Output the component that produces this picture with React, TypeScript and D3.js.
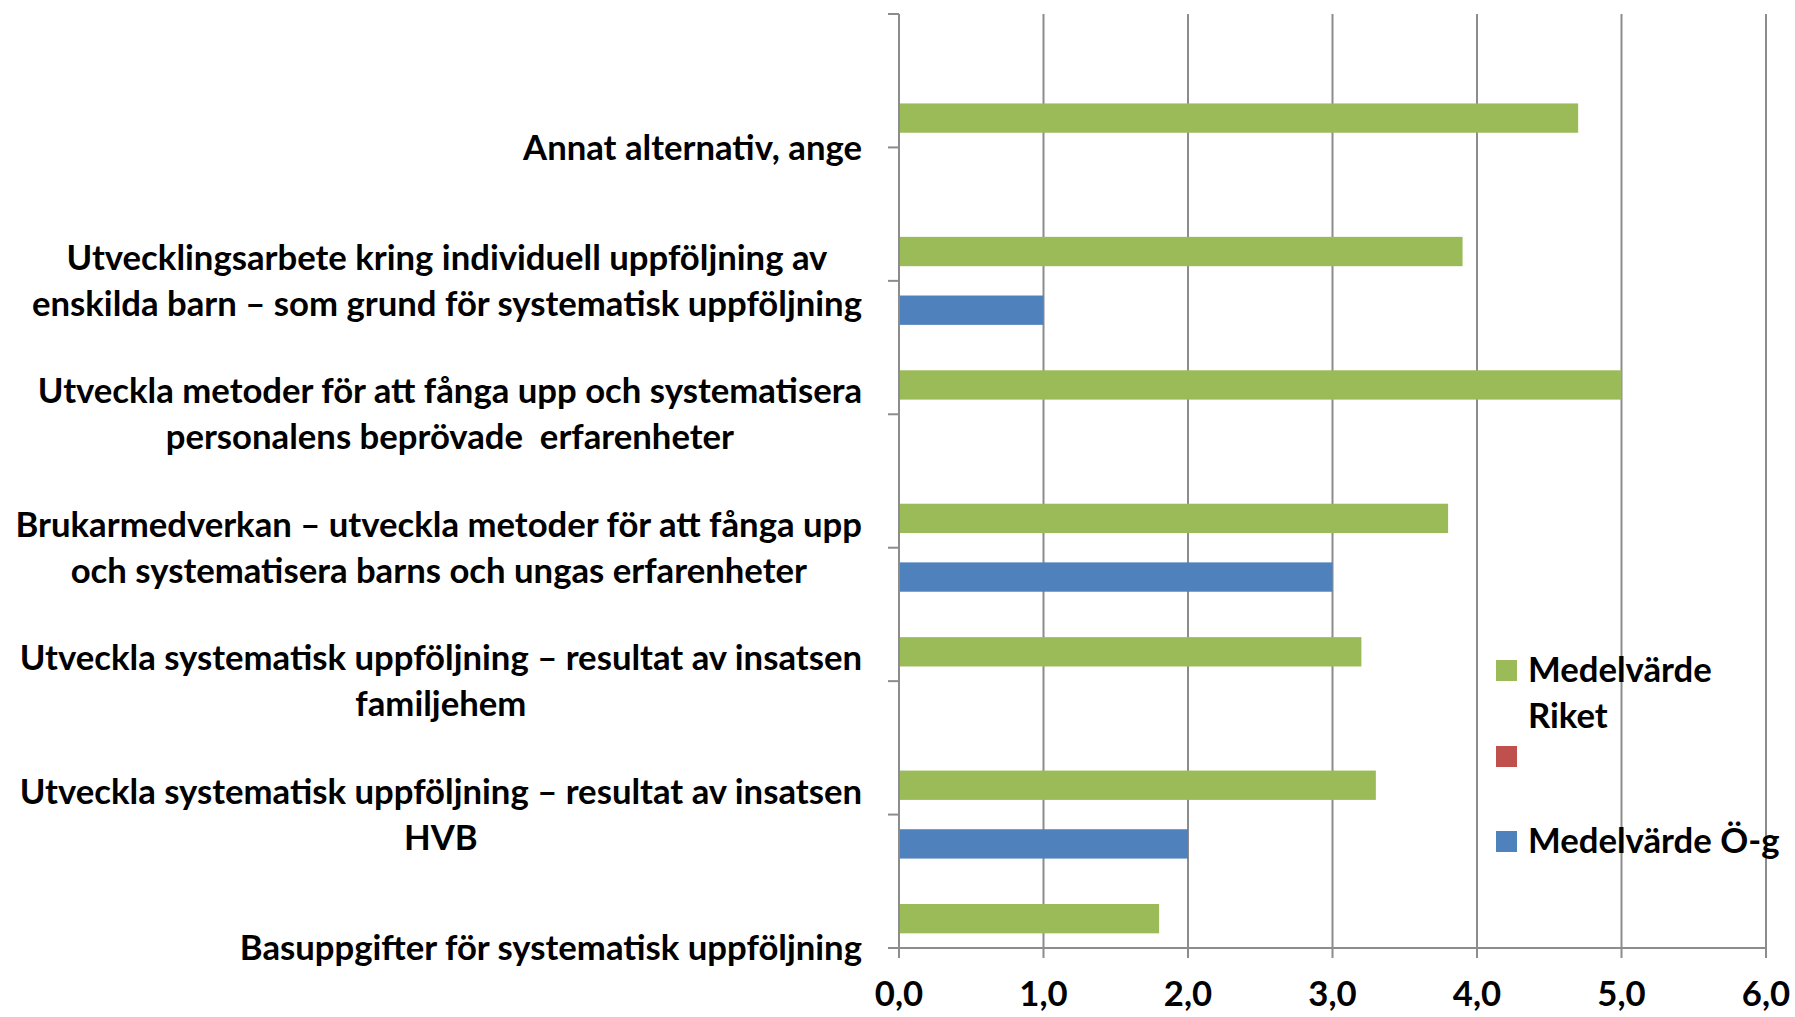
import React, { useRef, useEffect } from 'react';
import * as d3 from 'd3';

// categories top to bottom (first one is the empty slot at the top of the axis)
const categories: string[] = [
    '',
    'Annat alternativ, ange',
    'Utvecklingsarbete kring individuell uppföljning av\nenskilda barn – som grund för systematisk uppföljning',
    'Utveckla metoder för att fånga upp och systematisera\npersonalens beprövade  erfarenheter',
    'Brukarmedverkan – utveckla metoder för att fånga upp\noch systematisera barns och ungas erfarenheter',
    'Utveckla systematisk uppföljning – resultat av insatsen\nfamiljehem',
    'Utveckla systematisk uppföljning – resultat av insatsen\nHVB',
    'Basuppgifter för systematisk uppföljning',
];

const seriesNames: string[] = ['Medelvärde Riket', '', 'Medelvärde Ö-g'];
const seriesColors: string[] = ['#9BBB59', '#C0504D', '#4F81BD'];

const riket: (number | null)[] = [null, 4.7, 3.9, 5.0, 3.8, 3.2, 3.3, 1.8];
const tom: (number | null)[] = [null, null, null, null, null, null, null, null];
const og: (number | null)[] = [null, null, 1.0, null, 3.0, null, 2.0, null];

const xTicks: number[] = [0, 1, 2, 3, 4, 5, 6];

const FONT = 'Lato, "Open Sans", sans-serif';

const App: React.FC = () => {
    const svgRef = useRef<SVGSVGElement | null>(null);

    useEffect(() => {
        if (!svgRef.current) return;
        const svg = d3.select(svgRef.current);
        svg.selectAll('*').remove();

        const left = 899, right = 1766, top = 14, bottom = 948;
        const fontSize = 34.7;
        const gray = '#8C8C8C';

        const x = d3.scaleLinear().domain([0, 6]).range([left, right]);
        const y = d3.scalePoint<string>().domain(categories.map((_, i) => String(i))).range([top, bottom]);
        const inner = d3.scaleBand<string>().domain(['0', '1', '2']).range([-44, 44]);

        // gridlines
        svg.append('g')
            .selectAll('line')
            .data(xTicks.slice(1))
            .enter().append('line')
            .attr('x1', d => x(d)).attr('x2', d => x(d))
            .attr('y1', top).attr('y2', bottom + 10)
            .attr('stroke', gray).attr('stroke-width', 2);

        // bars
        const allSeries = [riket, tom, og];
        allSeries.forEach((vals, si) => {
            svg.append('g')
                .selectAll('rect')
                .data(vals.map((v, i) => ({ v, i })).filter(d => d.v != null && (d.v as number) > 0))
                .enter().append('rect')
                .attr('x', x(0))
                .attr('y', d => (y(String(d.i)) as number) + (inner(String(si)) as number))
                .attr('width', d => x(d.v as number) - x(0))
                .attr('height', inner.bandwidth())
                .attr('fill', seriesColors[si]);
        });

        // y axis
        svg.append('line')
            .attr('x1', left).attr('x2', left)
            .attr('y1', top).attr('y2', bottom + 10)
            .attr('stroke', gray).attr('stroke-width', 2);
        svg.append('g')
            .selectAll('line')
            .data(categories.map((_, i) => String(i)))
            .enter().append('line')
            .attr('x1', left - 11).attr('x2', left)
            .attr('y1', d => y(d) as number).attr('y2', d => y(d) as number)
            .attr('stroke', gray).attr('stroke-width', 2);

        // x axis
        svg.append('line')
            .attr('x1', left - 11).attr('x2', right)
            .attr('y1', bottom).attr('y2', bottom)
            .attr('stroke', gray).attr('stroke-width', 2);

        svg.append('g')
            .selectAll('text')
            .data(xTicks)
            .enter().append('text')
            .attr('x', d => x(d))
            .attr('y', 1006)
            .attr('text-anchor', 'middle')
            .style('font-family', FONT).style('font-weight', 'bold').style('font-size', fontSize + 'px')
            .text(d => d3.format('.1f')(d).replace('.', ','));

        // category labels
        const labelRight = 862;
        const lineH = 46;
        categories.forEach((c, i) => {
            if (!c) return;
            const lines = c.split('\n');
            const cy = y(String(i)) as number;
            const g = svg.append('g');
            const texts = lines.map((ln, li) =>
                g.append('text')
                    .attr('y', cy + (li - (lines.length - 1) / 2) * lineH)
                    .attr('dy', '0.35em')
                    .attr('text-anchor', 'middle')
                    .attr('xml:space', 'preserve')
                    .style('font-family', FONT).style('font-weight', 'bold').style('font-size', fontSize + 'px')
                    .text(ln)
            );
            const maxW = d3.max(texts, t => (t.node() as SVGTextElement).getComputedTextLength()) || 0;
            texts.forEach(t => t.attr('x', labelRight - maxW / 2));
        });

        // legend
        const legend = [
            { color: seriesColors[0], lines: ['Medelvärde', 'Riket'], sy: 660 },
            { color: seriesColors[1], lines: [], sy: 746 },
            { color: seriesColors[2], lines: ['Medelvärde Ö-g'], sy: 831 },
        ];
        legend.forEach(l => {
            svg.append('rect')
                .attr('x', 1496).attr('y', l.sy)
                .attr('width', 21).attr('height', 21)
                .attr('fill', l.color);
            l.lines.forEach((ln, li) => {
                svg.append('text')
                    .attr('x', 1528)
                    .attr('y', l.sy + 22 + li * lineH)
                    .style('font-family', FONT).style('font-weight', 'bold').style('font-size', fontSize + 'px')
                    .text(ln);
            });
        });
    }, []);

    return (
        <svg ref={svgRef} width={1795} height={1017}
            style={{ position: 'absolute', left: 0, top: 0, background: '#fff' }} />
    );
};

export default App;
